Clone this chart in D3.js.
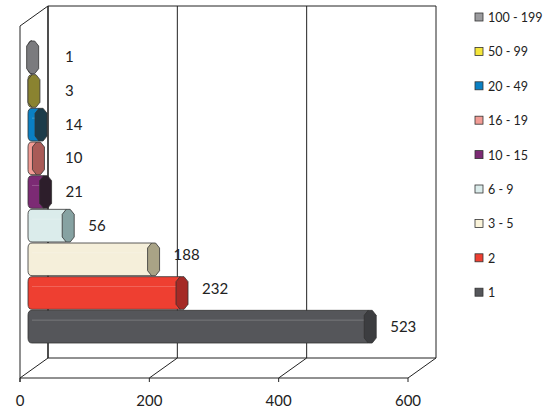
<!DOCTYPE html>
<html><head><meta charset="utf-8">
<script src="https://cdn.jsdelivr.net/npm/d3@7"></script>
<style>body{margin:0;background:#fff}text{font-family:Lato,"Open Sans",sans-serif;fill:#222}</style>
</head><body><div id="chart"></div>
<script>
// Data (bottom to top)
const categories = ['1', '2', '3 - 5', '6 - 9', '10 - 15', '16 - 19', '20 - 49', '50 - 99', '100 - 199'];
const values = [523, 232, 188, 56, 21, 10, 14, 3, 1];
const bodyColors = ['#55565a', '#ee3f31', '#f5efda', '#dbeceb', '#7c2a74', '#f29c95', '#0a80c4', '#a89f3a', '#9b9b9e'];
const capColors = ['#3c3d40', '#a52a26', '#a9a386', '#86a2a2', '#2d1e2b', '#a95b57', '#1c3c4a', '#8a8330', '#7b7b7e'];
const legendColors = ['#55565a', '#ee3f31', '#fbf4da', '#dbeceb', '#7c2a74', '#f29c95', '#0a80c4', '#f5e63a', '#9b9b9e'];
const ticks = [0, 200, 400, 600];

const W = 552, H = 414;
const svg = d3.select('#chart').append('svg').attr('width', W).attr('height', H);

const dx = 28, dy = -20;
const xFront = d3.scaleLinear().domain([0, 600]).range([20, 408]);
const xBar = d3.scaleLinear().domain([0, 600]).range([30, 418]);
const yBand = d3.scaleBand().domain(d3.range(categories.length)).range([343, 41]).paddingInner(0.03);
const yTop = 6, yBack = 358, yFront = 378;

const g = svg.append('g').attr('stroke', '#222').attr('fill', 'none');
// back wall
g.append('line').attr('x1', xFront(0) + dx).attr('x2', xFront(600) + dx).attr('y1', yTop).attr('y2', yTop);
g.append('line').attr('x1', xFront(0) + dx).attr('x2', xFront(600) + dx).attr('y1', yBack).attr('y2', yBack);
ticks.forEach(t => {
  g.append('line').attr('x1', xFront(t) + dx).attr('x2', xFront(t) + dx).attr('y1', yTop).attr('y2', yBack)
    .attr('stroke-width', t === 0 ? 1.6 : 1);
  g.append('line').attr('x1', xFront(t)).attr('x2', xFront(t) + dx).attr('y1', yFront).attr('y2', yBack);
});
// left wall and floor front
g.append('line').attr('x1', 20).attr('x2', 20 + dx).attr('y1', yTop - dy).attr('y2', yTop);
g.append('line').attr('x1', 20).attr('x2', 20).attr('y1', yTop - dy).attr('y2', yFront + 4);
g.append('line').attr('x1', xFront(0)).attr('x2', xFront(600)).attr('y1', yFront).attr('y2', yFront);
ticks.forEach(t => g.append('line').attr('x1', xFront(t)).attr('x2', xFront(t)).attr('y1', yFront).attr('y2', yFront + 4));

svg.selectAll('.tick').data(ticks).join('text')
  .attr('x', d => xFront(d)).attr('y', 406).attr('text-anchor', 'middle')
  .attr('font-size', 15).text(d => d);

// bars
const bh = yBand.bandwidth();
const bars = svg.selectAll('.bar').data(values).join('g');
bars.each(function(v, i) {
  const gg = d3.select(this);
  const y0 = yBand(i), x0 = xBar(0), x1 = xBar(v);
  const c = 5;
  gg.append('path')
    .attr('d', `M${x0 + 2},${y0} L${x1},${y0} L${x1},${y0 + bh} L${x0 + 2},${y0 + bh} Q${x0 - 2},${y0 + bh} ${x0 - 2},${y0 + bh - c} L${x0 - 2},${y0 + c} Q${x0 - 2},${y0} ${x0 + 2},${y0}Z`)
    .attr('fill', bodyColors[i]).attr('stroke', '#333').attr('stroke-width', 0.8);
  gg.append('line').attr('x1', x0 + 2).attr('x2', x1).attr('y1', y0 + bh * 0.3).attr('y2', y0 + bh * 0.3)
    .attr('stroke', '#fff').attr('stroke-opacity', 0.2);
  gg.append('path')
    .attr('d', `M${x1 - 4},${y0 + c} L${x1},${y0} L${x1 + 4},${y0} L${x1 + 8},${y0 + c} L${x1 + 8},${y0 + bh - c} L${x1 + 4},${y0 + bh} L${x1},${y0 + bh} L${x1 - 4},${y0 + bh - c}Z`)
    .attr('fill', capColors[i]).attr('stroke', '#333').attr('stroke-width', 0.8);
  gg.append('text').attr('x', Math.max(65, x1 + 22)).attr('y', y0 + bh / 2 + 5 + (v > 100 ? -4 : 0) + (v > 500 ? 4 : 0))
    .attr('font-size', 15).text(v);
});

// legend
const leg = svg.selectAll('.leg').data(categories.slice().reverse()).join('g')
  .attr('transform', (d, i) => `translate(475,${18 + i * 34.4})`);
leg.append('rect').attr('x', 0).attr('y', -5).attr('width', 8).attr('height', 8)
  .attr('fill', (d, i) => legendColors[categories.length - 1 - i]).attr('stroke', '#333').attr('stroke-width', 0.8);
leg.append('text').attr('x', 13).attr('y', 4).attr('font-size', 12.5).text(d => d);
</script></body></html>
